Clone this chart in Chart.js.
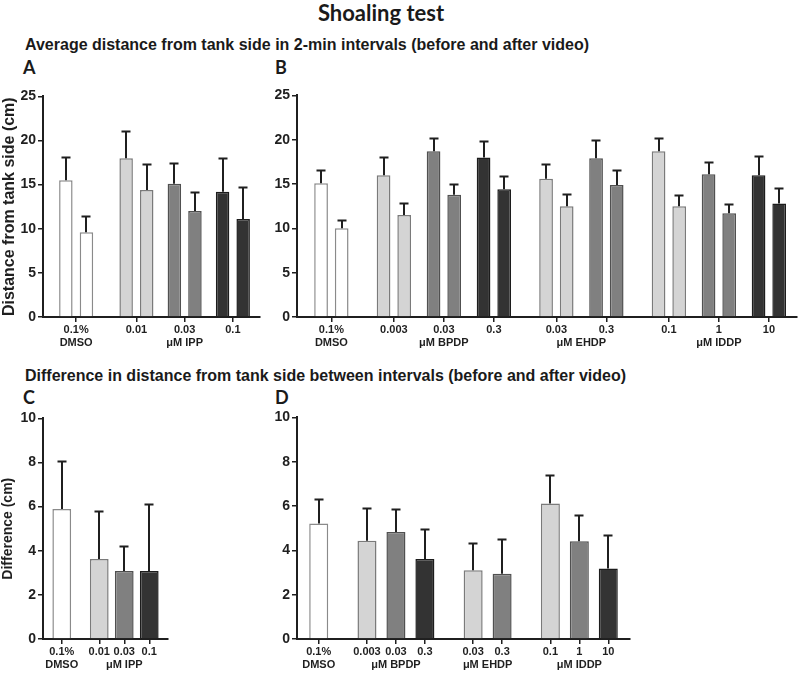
<!DOCTYPE html>
<html>
<head>
<meta charset="utf-8">
<script src="https://cdn.jsdelivr.net/npm/chart.js@4.4.1/dist/chart.umd.min.js"></script>
<style>
    body { margin: 0; background: #fff; width: 800px; height: 675px; position: relative; overflow: hidden; }
    .txt { position: absolute; white-space: nowrap; color: #1a1a1a; font-family: 'Liberation Sans', Arial, sans-serif; font-weight: bold; }
    .big { font-family: Lato, 'Open Sans', sans-serif; }
    canvas { position: absolute; }
</style>
</head>
<body>
<div class="txt big" style="left:0; width:762px; text-align:center; top:0px; font-size:22px; line-height:26px;">Shoaling test</div>
<div class="txt" style="left:25px; top:36px; font-size:16px; line-height:18px;">Average distance from tank side in 2-min intervals (before and after video)</div>
<div class="txt big" style="left:23px; top:56px; font-size:18px; line-height:22px;">A</div>
<div class="txt big" style="left:275px; top:56px; font-size:18px; line-height:22px;">B</div>
<div class="txt" style="left:25px; top:367px; font-size:16px; line-height:18px;">Difference in distance from tank side between intervals (before and after video)</div>
<div class="txt big" style="left:23px; top:386px; font-size:18px; line-height:22px;">C</div>
<div class="txt big" style="left:275px; top:386px; font-size:18px; line-height:22px;">D</div>

<canvas id="chart-a" width="268" height="280" style="left:0; top:86px;"></canvas>
<canvas id="chart-b" width="545" height="281" style="left:255px; top:85px;"></canvas>
<canvas id="chart-c" width="180" height="267" style="left:0; top:408px;"></canvas>
<canvas id="chart-d" width="385" height="268" style="left:255px; top:407px;"></canvas>

<script>
// --- Data ---
// Panel A: IPP, distance (cm) before / after video, mean and SEM
const dosesA = ['0.1%', '0.01', '0.03', '0.1'];
const familiesA = [['DMSO', 1], ['\u03bcM IPP', 3]];
const beforeA = [15.5, 18.0, 15.1, 14.2];
const beforeErrA = [2.6, 3.1, 2.4, 3.8];
const afterA = [9.6, 14.4, 12.0, 11.1];
const afterErrA = [1.8, 2.9, 2.2, 3.6];

// Panel B: BPDP, EHDP, IDDP
const dosesB = ['0.1%', '0.003', '0.03', '0.3', '0.03', '0.3', '0.1', '1', '10'];
const familiesB = [['DMSO', 1], ['\u03bcM BPDP', 3], ['\u03bcM EHDP', 2], ['\u03bcM IDDP', 3]];
const beforeB = [15.1, 16.0, 18.7, 18.0, 15.6, 17.9, 18.7, 16.1, 16.0];
const beforeErrB = [1.5, 2.0, 1.5, 1.8, 1.7, 2.1, 1.5, 1.4, 2.2];
const afterB = [10.0, 11.5, 13.8, 14.4, 12.5, 14.9, 12.5, 11.7, 12.8];
const afterErrB = [0.9, 1.4, 1.2, 1.5, 1.4, 1.7, 1.3, 1.0, 1.7];

// Panel C: difference (cm), IPP
const dosesC = ['0.1%', '0.01', '0.03', '0.1'];
const familiesC = [['DMSO', 1], ['\u03bcM IPP', 3]];
const diffC = [5.89, 3.63, 3.08, 3.08];
const diffErrC = [2.19, 2.17, 1.15, 3.04];

// Panel D: difference (cm), BPDP, EHDP, IDDP
const dosesD = ['0.1%', '0.003', '0.03', '0.3', '0.03', '0.3', '0.1', '1', '10'];
const familiesD = [['DMSO', 1], ['\u03bcM BPDP', 3], ['\u03bcM EHDP', 2], ['\u03bcM IDDP', 3]];
const diffD = [5.21, 4.43, 4.83, 3.61, 3.10, 2.95, 6.11, 4.41, 3.18];
const diffErrD = [1.13, 1.49, 1.03, 1.36, 1.22, 1.58, 1.30, 1.18, 1.53];

// --- Styles ---
const TONES = {
    white: { fill: '#ffffff', line: '#8a8a8a' },
    light: { fill: '#d4d4d4', line: '#7a7a7a' },
    mid:   { fill: '#808080', line: '#505050' },
    dark:  { fill: '#333333', line: '#1c1c1c' }
};
const tonesAC = ['white', 'light', 'mid', 'dark'];
const tonesBD = ['white', 'light', 'mid', 'dark', 'light', 'mid', 'light', 'mid', 'dark'];
const INK = '#1f1f1f';
const FONT = "'Liberation Sans', Arial, sans-serif";

// Category slots: groups sit on evenly spaced slots, families separated by a wider gap
function buildSlots(doses, families, layout) {
    const labels = new Array(layout.total).fill('');
    const groupIdx = [];
    let pos = layout.lead - layout.gap;
    let g = 0;
    families.forEach(([name, count]) => {
        const first = groupIdx.length;
        for (let k = 0; k < count; k++) {
            pos += k === 0 ? layout.gap : layout.step;
            groupIdx.push(pos);
            labels[pos] = [doses[g++], ''];
        }
        const mid = (groupIdx[first] + groupIdx[groupIdx.length - 1]) / 2;
        if (Array.isArray(labels[mid])) labels[mid][1] = name;
        else labels[mid] = ['', name];
    });
    return { labels, groupIdx };
}

function toSlots(values, slots) {
    const out = new Array(slots.labels.length).fill(null);
    slots.groupIdx.forEach((p, i) => { out[p] = values[i]; });
    return out;
}

// Error bars (upper only)
const errorBars = {
    id: 'errorBars',
    afterDatasetsDraw(chart) {
        const ctx = chart.ctx;
        const y = chart.scales.y;
        ctx.save();
        ctx.strokeStyle = INK;
        ctx.lineWidth = 2;
        chart.data.datasets.forEach((ds, i) => {
            chart.getDatasetMeta(i).data.forEach((bar, j) => {
                const v = ds.data[j];
                const e = ds.errors[j];
                if (v == null || e == null) return;
                const top = Math.round(y.getPixelForValue(v + e)) + 0.5;
                const x = Math.round(bar.x);
                ctx.beginPath();
                ctx.moveTo(x, bar.y);
                ctx.lineTo(x, top);
                ctx.moveTo(x - 4.5, top);
                ctx.lineTo(x + 4.5, top);
                ctx.stroke();
            });
        });
        ctx.restore();
    }
};

function makeChart(id, cfg) {
    const slots = buildSlots(cfg.doses, cfg.families, cfg.layout);
    const isGroup = new Set(slots.groupIdx);
    const fills = toSlots(cfg.tones.map(t => TONES[t].fill), slots);
    const lines = toSlots(cfg.tones.map(t => TONES[t].line), slots);
    const datasets = cfg.series.map(s => ({
        data: toSlots(s.values, slots),
        errors: toSlots(s.errors, slots),
        backgroundColor: fills,
        borderColor: lines,
        borderWidth: 1.5,
        categoryPercentage: cfg.catPct,
        barPercentage: cfg.barPct
    }));
    return new Chart(document.getElementById(id), {
        type: 'bar',
        data: { labels: slots.labels, datasets },
        plugins: [errorBars],
        options: {
            responsive: false,
            animation: false,
            layout: { padding: { top: 10, right: cfg.padRight, left: 0, bottom: 0 } },
            plugins: { legend: { display: false }, tooltip: { enabled: false } },
            scales: {
                x: {
                    offset: true,
                    border: { color: INK, width: 2 },
                    grid: {
                        offset: false,
                        drawOnChartArea: false,
                        tickLength: 5,
                        lineWidth: 1.5,
                        color: ctx => isGroup.has(ctx.index) ? INK : 'rgba(0,0,0,0)'
                    },
                    ticks: {
                        autoSkip: false,
                        maxRotation: 0,
                        minRotation: 0,
                        padding: 1,
                        color: INK,
                        font: { family: FONT, size: 11, weight: 'bold', lineHeight: 1.2 }
                    },
                    afterFit: scale => { scale.height = cfg.xHeight; }
                },
                y: {
                    min: 0,
                    max: cfg.yMax,
                    border: { color: INK, width: 2 },
                    grid: { drawOnChartArea: false, tickLength: 5, lineWidth: 1.5, color: INK },
                    ticks: {
                        stepSize: cfg.yStep,
                        padding: 2,
                        color: INK,
                        font: { family: FONT, size: 14, weight: 'bold' }
                    },
                    title: {
                        display: !!cfg.yTitle,
                        text: cfg.yTitle || '',
                        color: INK,
                        padding: { top: 0, bottom: 2 },
                        font: { family: FONT, size: cfg.yTitleSize || 13, weight: 'bold' }
                    },
                    afterFit: scale => { scale.width = cfg.yWidth; }
                }
            }
        }
    });
}

document.addEventListener('DOMContentLoaded', function () {
    makeChart('chart-a', {
        doses: dosesA, families: familiesA, tones: tonesAC,
        series: [{ values: beforeA, errors: beforeErrA }, { values: afterA, errors: afterErrA }],
        layout: { lead: 5, step: 8, gap: 10, total: 36 },
        catPct: 6.83, barPct: 0.655,
        yMax: 25, yStep: 5, yTitle: 'Distance from tank side (cm)', yTitleSize: 16,
        yWidth: 43, xHeight: 49, padRight: 8
    });
    makeChart('chart-b', {
        doses: dosesB, families: familiesB, tones: tonesBD,
        series: [{ values: beforeB, errors: beforeErrB }, { values: afterB, errors: afterErrB }],
        layout: { lead: 5, step: 8, gap: 10, total: 80 },
        catPct: 6.6, barPct: 0.665,
        yMax: 25, yStep: 5,
        yWidth: 42, xHeight: 49, padRight: 3
    });
    makeChart('chart-c', {
        doses: dosesC, families: familiesC, tones: tonesAC,
        series: [{ values: diffC, errors: diffErrC }],
        layout: { lead: 1, step: 2, gap: 3, total: 10 },
        catPct: 1.5, barPct: 1,
        yMax: 10, yStep: 2, yTitle: 'Difference (cm)', yTitleSize: 14,
        yWidth: 43, xHeight: 36, padRight: 12
    });
    makeChart('chart-d', {
        doses: dosesD, families: familiesD, tones: tonesBD,
        series: [{ values: diffD, errors: diffErrD }],
        layout: { lead: 4, step: 6, gap: 10, total: 69 },
        catPct: 3.94, barPct: 1,
        yMax: 10, yStep: 2,
        yWidth: 42, xHeight: 36, padRight: 10
    });
});
</script>
</body>
</html>
